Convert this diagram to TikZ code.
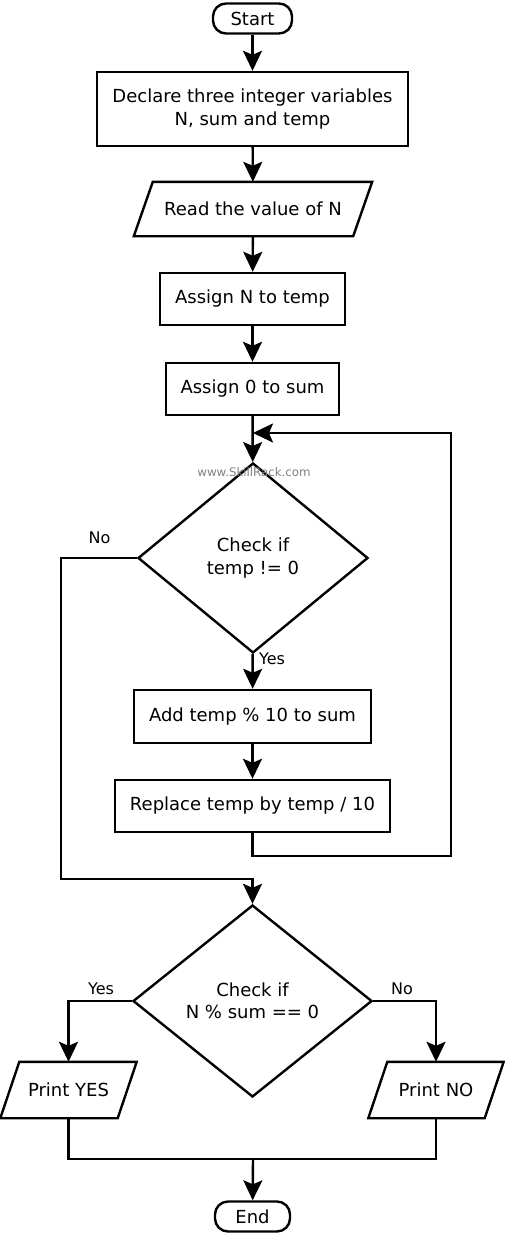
\documentclass[tikz,border=0pt]{standalone}
\usepackage{fontspec}
\setmainfont{DejaVu Sans}
\usetikzlibrary{arrows.meta,shapes.geometric}
\tikzset{
  base/.style={line width=2.4pt, inner sep=0pt, font=\fontsize{18}{22.5}\selectfont, align=center},
  term/.style={base, draw, rectangle, rounded corners=13pt, minimum height=30pt},
  proc/.style={base, draw, rectangle},
  iobox/.style={base, draw=none, rectangle, minimum height=53pt},
  iofrm/.style={line width=2.4pt, line join=miter},
  dec/.style={base, draw, diamond},
  lbl/.style={inner sep=0pt, font=\fontsize{16}{18}\selectfont},
  wm/.style={inner sep=0pt, text=black!50, font=\fontsize{11.8}{13}\selectfont},
  flow/.style={line width=2.4pt, -{Stealth[length=20pt,width=19pt,inset=4pt]}},
  line/.style={line width=2.4pt}
}
\begin{document}
\begin{tikzpicture}[x=1pt,y=-1pt]
\useasboundingbox (0,0) rectangle (505,1236);
% nodes
\node[term, minimum width=79pt] (start) at (252.5,18.5) {Start};
\node[proc, minimum width=311pt, minimum height=74pt] (decl) at (252.5,109) {Declare three integer variables\\N, sum and temp};
\node[iobox, minimum width=217pt, minimum height=52pt] (read) at (253,209) {Read the value of N};
\node[proc, minimum width=185pt, minimum height=52pt] (asgn) at (252.5,299) {Assign N to temp};
\node[proc, minimum width=173pt, minimum height=52pt] (asg0) at (252.5,389) {Assign 0 to sum};
\node[dec, minimum width=230pt, minimum height=190pt] (d1) at (253,558) {Check if\\temp != 0};
\node[proc, minimum width=237pt, minimum height=53pt] (add) at (252.5,716.5) {Add temp \% 10 to sum};
\node[proc, minimum width=275pt, minimum height=52pt] (repl) at (252.5,806) {Replace temp by temp / 10};
\node[dec, minimum width=239pt, minimum height=192pt] (d2) at (252.5,1001) {Check if\\N \% sum == 0};
\node[iobox, minimum width=115pt, minimum height=54pt] (pyes) at (68.5,1090) {Print YES};
\node[iobox, minimum width=114pt, minimum height=54pt] (pno) at (436,1090) {Print NO};
\node[term, minimum width=75pt] (end) at (252.5,1216.5) {End};
% parallelogram frames
\draw[iofrm] ([xshift=9.5pt]read.north west) -- ([xshift=9.5pt]read.north east) -- ([xshift=-9.5pt]read.south east) -- ([xshift=-9.5pt]read.south west) -- cycle;
\draw[iofrm] ([xshift=9.5pt]pyes.north west) -- ([xshift=9.5pt]pyes.north east) -- ([xshift=-9.5pt]pyes.south east) -- ([xshift=-9.5pt]pyes.south west) -- cycle;
\draw[iofrm] ([xshift=9.5pt]pno.north west) -- ([xshift=9.5pt]pno.north east) -- ([xshift=-9.5pt]pno.south east) -- ([xshift=-9.5pt]pno.south west) -- cycle;
% labels
\node[wm] (wmark) at (254,472) {www.SkillRack.com};
\node[lbl] (no1) at (99.5,538) {No};
\node[lbl] (yes1) at (272,659) {Yes};
\node[lbl] (yes2) at (101,989) {Yes};
\node[lbl] (no2) at (402,989) {No};
% helper coordinates
\coordinate (loopin) at (253,433);
\coordinate (loopc) at (451,856);
\coordinate (noc) at (61,879);
\coordinate (merge) at (253,1159);
% connectors
\draw[flow] (start) -- (decl);
\draw[flow] (decl) -- (read);
\draw[flow] (read) -- (asgn);
\draw[flow] (asgn) -- (asg0);
\draw[flow] (asg0) -- (d1);
\draw[flow] (d1) -- (add);
\draw[flow] (add) -- (repl);
\draw[flow] (repl.south) |- (loopc) |- (loopin);
\draw[flow] (d1.west) -| (noc) -| (d2.north);
\draw[flow] (d2.west) -| (pyes.north);
\draw[flow] (d2.east) -| (pno.north);
\draw[line] (pyes.south) |- (merge) -| (pno.south);
\draw[flow] (merge) -- (end);
\end{tikzpicture}
\end{document}
